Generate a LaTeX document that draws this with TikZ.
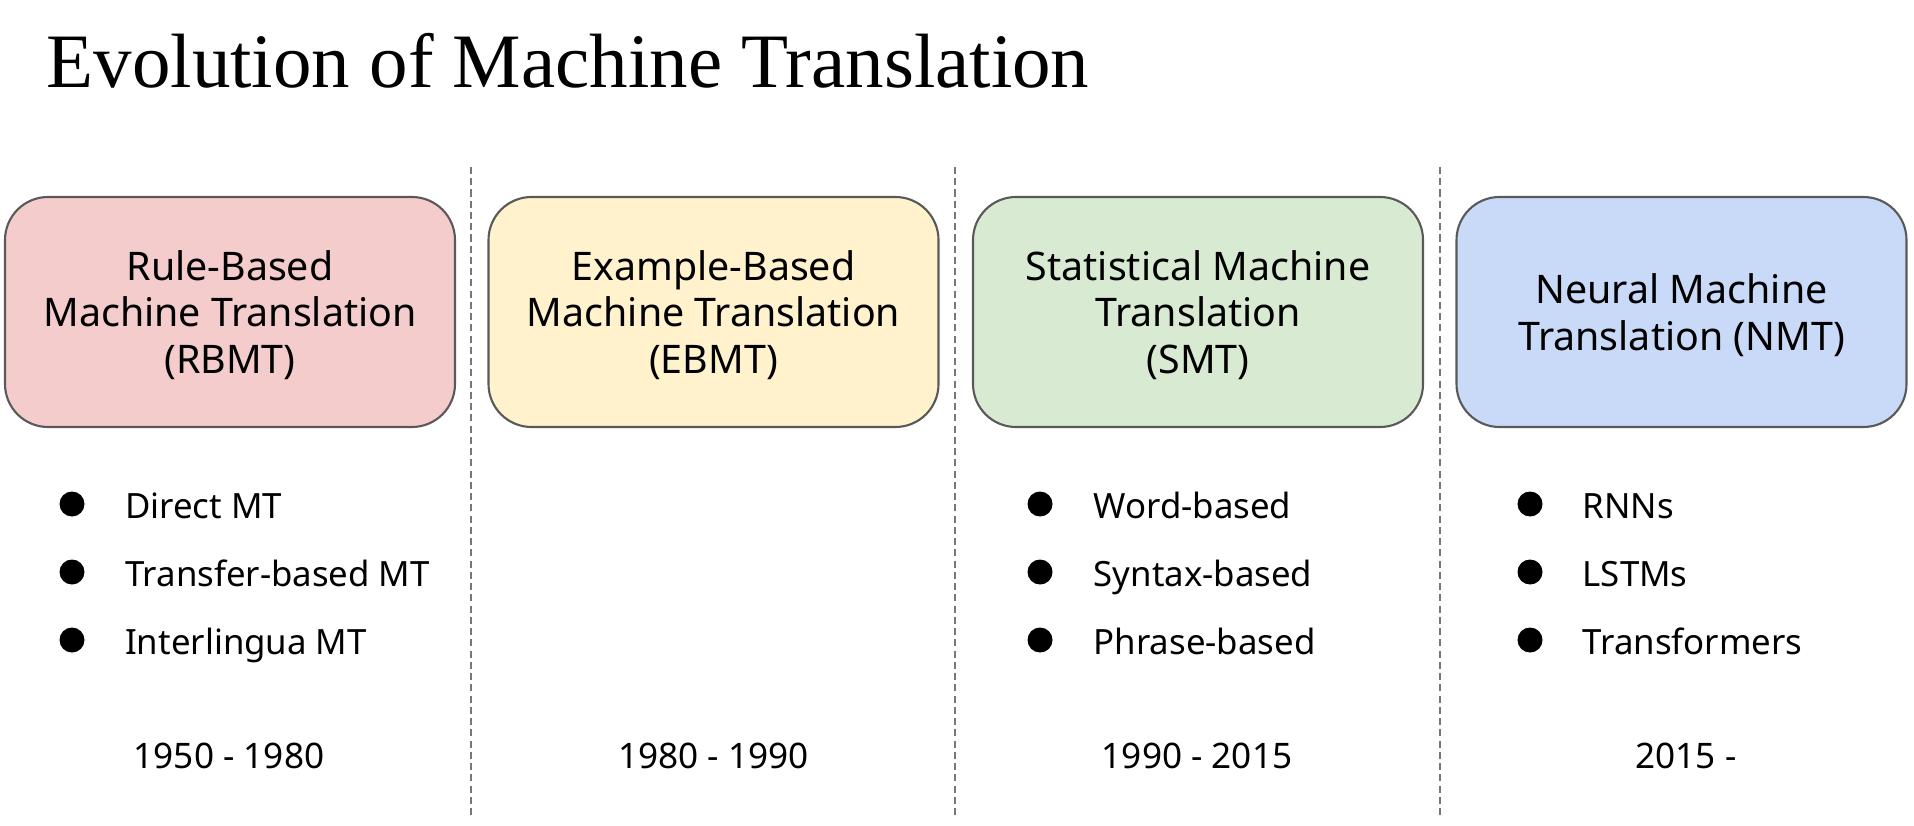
\documentclass[tikz,border=0pt]{standalone}
\usepackage{fontspec}
\setmainfont{Liberation Serif}
\setsansfont{Noto Sans}
\definecolor{rbmtfill}{HTML}{F4CCCC}
\definecolor{ebmtfill}{HTML}{FFF2CC}
\definecolor{smtfill}{HTML}{D9EAD3}
\definecolor{nmtfill}{HTML}{C9DAF8}
\definecolor{boxline}{HTML}{595959}
\definecolor{sepgray}{HTML}{777777}
\begin{document}
\begin{tikzpicture}[
    era/.style={draw=boxline, line width=0.6pt, rounded corners=0.43cm,
        minimum width=4.5cm, minimum height=2.3cm, align=center, text depth=0pt,
        font=\sffamily\fontsize{11.2}{13.3}\selectfont},
    dot/.style={circle, fill=black, inner sep=0, minimum size=0.25cm},
    item/.style={anchor=base west, yshift=-0.14cm, inner sep=0, font=\sffamily\fontsize{9.9}{11}\selectfont},
    year/.style={anchor=base, yshift=-0.125cm, inner sep=0, font=\sffamily\fontsize{10}{11}\selectfont},
    sep/.style={draw=sepgray, line width=0.45pt, dash pattern=on 2pt off 1.2pt}]
    \useasboundingbox (0,0) rectangle (19.14,8.25);
    % titolo
    \node[anchor=base west, inner sep=0, font=\fontsize{21.9}{24}\selectfont] (title) at (0.46,7.37) {Evolution of Machine Translation};
    % separatori
    \draw[sep] (4.71,6.58) -- (4.71,0.10);
    \draw[sep] (9.55,6.58) -- (9.55,0.10);
    \draw[sep] (14.40,6.58) -- (14.40,0.10);
    % RBMT
    \node[era, fill=rbmtfill] (rbmt) at (2.30,5.13) {Rule-Based\\Machine Translation\\(RBMT)};
    \node[dot] (rbmt1) at (0.72,3.21) {};
    \node[item] (rbmtdirect) at (1.245,3.21) {Direct MT};
    \node[dot] (rbmt2) at (0.72,2.53) {};
    \node[item] (rbmttransfer) at (1.245,2.53) {Transfer-based MT};
    \node[dot] (rbmt3) at (0.72,1.85) {};
    \node[item] (rbmtinter) at (1.245,1.85) {Interlingua MT};
    \node[year] (rbmtyear) at (2.29,0.69) {1950 - 1980};
    % EBMT
    \node[era, fill=ebmtfill] (ebmt) at (7.135,5.13) {Example-Based\\Machine Translation\\(EBMT)};
    \node[year] (ebmtyear) at (7.135,0.69) {1980 - 1990};
    % SMT
    \node[era, fill=smtfill] (smt) at (11.98,5.13) {Statistical Machine\\Translation\\(SMT)};
    \node[dot] (smt1) at (10.40,3.21) {};
    \node[item] (smtword) at (10.93,3.21) {Word-based};
    \node[dot] (smt2) at (10.40,2.53) {};
    \node[item] (smtsyntax) at (10.93,2.53) {Syntax-based};
    \node[dot] (smt3) at (10.40,1.85) {};
    \node[item] (smtphrase) at (10.93,1.85) {Phrase-based};
    \node[year] (smtyear) at (11.97,0.69) {1990 - 2015};
    % NMT
    \node[era, fill=nmtfill] (nmt) at (16.815,5.13) {Neural Machine\\Translation (NMT)};
    \node[dot] (nmt1) at (15.30,3.21) {};
    \node[item] (nmtrnn) at (15.82,3.21) {RNNs};
    \node[dot] (nmt2) at (15.30,2.53) {};
    \node[item] (nmtlstm) at (15.82,2.53) {LSTMs};
    \node[dot] (nmt3) at (15.30,1.85) {};
    \node[item] (nmttrans) at (15.82,1.85) {Transformers};
    \node[year] (nmtyear) at (16.86,0.69) {2015 -};
\end{tikzpicture}
\end{document}
